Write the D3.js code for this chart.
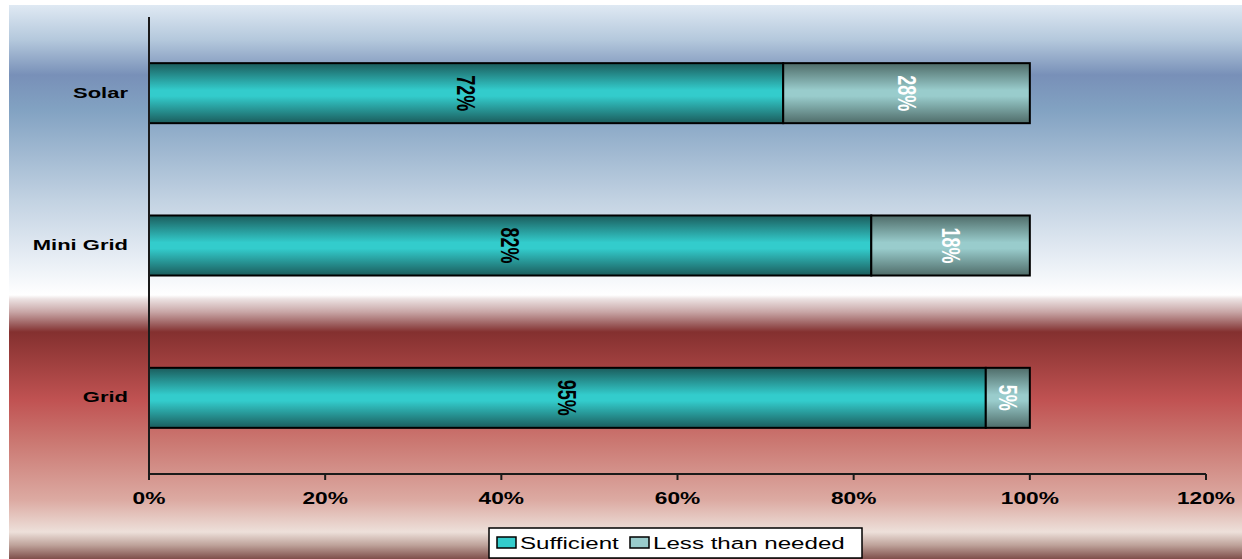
<!DOCTYPE html>
<html>
<head>
<meta charset="utf-8">
<script src="https://cdn.jsdelivr.net/npm/d3@7"></script>
<style>
  html, body { margin: 0; padding: 0; background: #fff; }
  svg { display: block; }
  text { font-family: "Liberation Sans", Arial, sans-serif; }
</style>
</head>
<body>
<div id="chart"></div>
<script>
// data
const categories = ["Solar", "Mini Grid", "Grid"];
const sufficient = [72, 82, 95];
const lessThanNeeded = [28, 18, 5];
const seriesNames = ["Sufficient", "Less than needed"];
const xTicks = [0, 20, 40, 60, 80, 100, 120];

const width = 1242, height = 559;
const plotLeft = 149, plotRight = 1206, plotTop = 17, plotBottom = 474;
const stretch = 1.42; // the original is stretched sideways, text included

const svg = d3.select('#chart').append('svg')
  .attr('width', width)
  .attr('height', height);

const defs = svg.append('defs');

// background gradient (blue sky on top, red below)
const bg = defs.append('linearGradient')
  .attr('id', 'bg')
  .attr('gradientUnits', 'userSpaceOnUse')
  .attr('x1', 0).attr('y1', 5).attr('x2', 0).attr('y2', 559);
[
  [5, '#dfe9f3'], [40, '#b4c8dc'], [75, '#7890b8'], [110, '#82a2c2'],
  [200, '#c2d2e2'], [260, '#e8eef5'], [295, '#ffffff'], [299, '#ece2e2'],
  [312, '#c8a6a6'], [326, '#965454'], [332, '#84302f'], [400, '#c05252'],
  [440, '#ca7670'], [500, '#dcaaa2'], [532, '#ede0da'], [545, '#bfa39b'],
  [559, '#7e4e4a']
].forEach(([y, c]) => {
  bg.append('stop').attr('offset', (y - 5) / 554).attr('stop-color', c);
});

function barGradient(id, edge, mid) {
  const g = defs.append('linearGradient')
    .attr('id', id)
    .attr('x1', 0).attr('y1', 0).attr('x2', 0).attr('y2', 1);
  g.append('stop').attr('offset', 0).attr('stop-color', edge);
  g.append('stop').attr('offset', 0.45).attr('stop-color', mid);
  g.append('stop').attr('offset', 0.55).attr('stop-color', mid);
  g.append('stop').attr('offset', 1).attr('stop-color', edge);
}
barGradient('gSuff', '#1b5c5c', '#33cccc');
barGradient('gLess', '#4f6c69', '#99cccc');

svg.append('rect')
  .attr('x', 9).attr('y', 5)
  .attr('width', width - 9).attr('height', height - 5)
  .attr('fill', 'url(#bg)');

// scales
const x = d3.scaleLinear().domain([0, 120]).range([plotLeft, plotRight]);
const y = d3.scaleBand().domain(categories).range([plotTop, plotBottom])
  .paddingInner(0.606).paddingOuter(0.303);

// stretched text helper
function sText(g, px, py, str) {
  return g.append('text')
    .attr('transform', `translate(${px},${py}) scale(${stretch},1)`)
    .text(str);
}

// bars
const rows = categories.map((c, i) => ({ cat: c, s: sufficient[i], l: lessThanNeeded[i] }));

const bars = svg.append('g');
rows.forEach(d => {
  bars.append('rect')
    .attr('x', x(0)).attr('y', y(d.cat))
    .attr('width', x(d.s) - x(0)).attr('height', y.bandwidth())
    .attr('fill', 'url(#gSuff)')
    .attr('stroke', '#000').attr('stroke-width', 2);
  bars.append('rect')
    .attr('x', x(d.s)).attr('y', y(d.cat))
    .attr('width', x(d.s + d.l) - x(d.s)).attr('height', y.bandwidth())
    .attr('fill', 'url(#gLess)')
    .attr('stroke', '#000').attr('stroke-width', 2);
});

// value labels, rotated to read downward
const labels = svg.append('g')
  .attr('font-size', 18).attr('font-weight', 'bold')
  .attr('text-anchor', 'middle');
rows.forEach(d => {
  const cy = y(d.cat) + y.bandwidth() / 2;
  labels.append('text')
    .attr('transform', `translate(${x(d.s / 2)},${cy}) scale(${stretch},1) rotate(90)`)
    .attr('dy', '0.35em')
    .attr('fill', '#000')
    .text(d.s + '%');
  labels.append('text')
    .attr('transform', `translate(${x(d.s + d.l / 2)},${cy}) scale(${stretch},1) rotate(90)`)
    .attr('dy', '0.35em')
    .attr('fill', '#fff')
    .text(d.l + '%');
});

// axes
const axisG = svg.append('g').attr('stroke', '#1a1a1a').attr('stroke-width', 2);
axisG.append('line')
  .attr('x1', plotLeft).attr('x2', plotLeft)
  .attr('y1', plotTop).attr('y2', plotBottom + 5);
axisG.append('line')
  .attr('x1', plotLeft).attr('x2', plotRight)
  .attr('y1', plotBottom).attr('y2', plotBottom);
axisG.selectAll('line.tick')
  .data(xTicks)
  .enter().append('line')
  .attr('class', 'tick')
  .attr('x1', d => x(d)).attr('x2', d => x(d))
  .attr('y1', plotBottom).attr('y2', plotBottom + 6);

const tickLabels = svg.append('g')
  .attr('font-size', 16).attr('font-weight', 'bold')
  .attr('text-anchor', 'middle').attr('fill', '#000');
xTicks.forEach(t => sText(tickLabels, x(t), 504, t + '%'));

const catLabels = svg.append('g')
  .attr('font-size', 15.5).attr('font-weight', 'bold')
  .attr('text-anchor', 'end').attr('fill', '#000');
categories.forEach(c => {
  sText(catLabels, 128, y(c) + y.bandwidth() / 2, c).attr('dy', '0.3em');
});

// legend
const legend = svg.append('g');
legend.append('rect')
  .attr('x', 489).attr('y', 528).attr('width', 373).attr('height', 30)
  .attr('fill', '#fff').attr('stroke', '#000').attr('stroke-width', 1.5);
const legendItems = [
  { name: seriesNames[0], fill: '#33cccc', sx: 497, tx: 520 },
  { name: seriesNames[1], fill: '#99cccc', sx: 630, tx: 653 }
];
legendItems.forEach(it => {
  legend.append('rect')
    .attr('x', it.sx).attr('y', 537).attr('width', 19).attr('height', 11)
    .attr('fill', it.fill).attr('stroke', '#000').attr('stroke-width', 1.5);
  sText(legend, it.tx, 549, it.name)
    .attr('font-size', 17).attr('fill', '#000');
});
</script>
</body>
</html>
